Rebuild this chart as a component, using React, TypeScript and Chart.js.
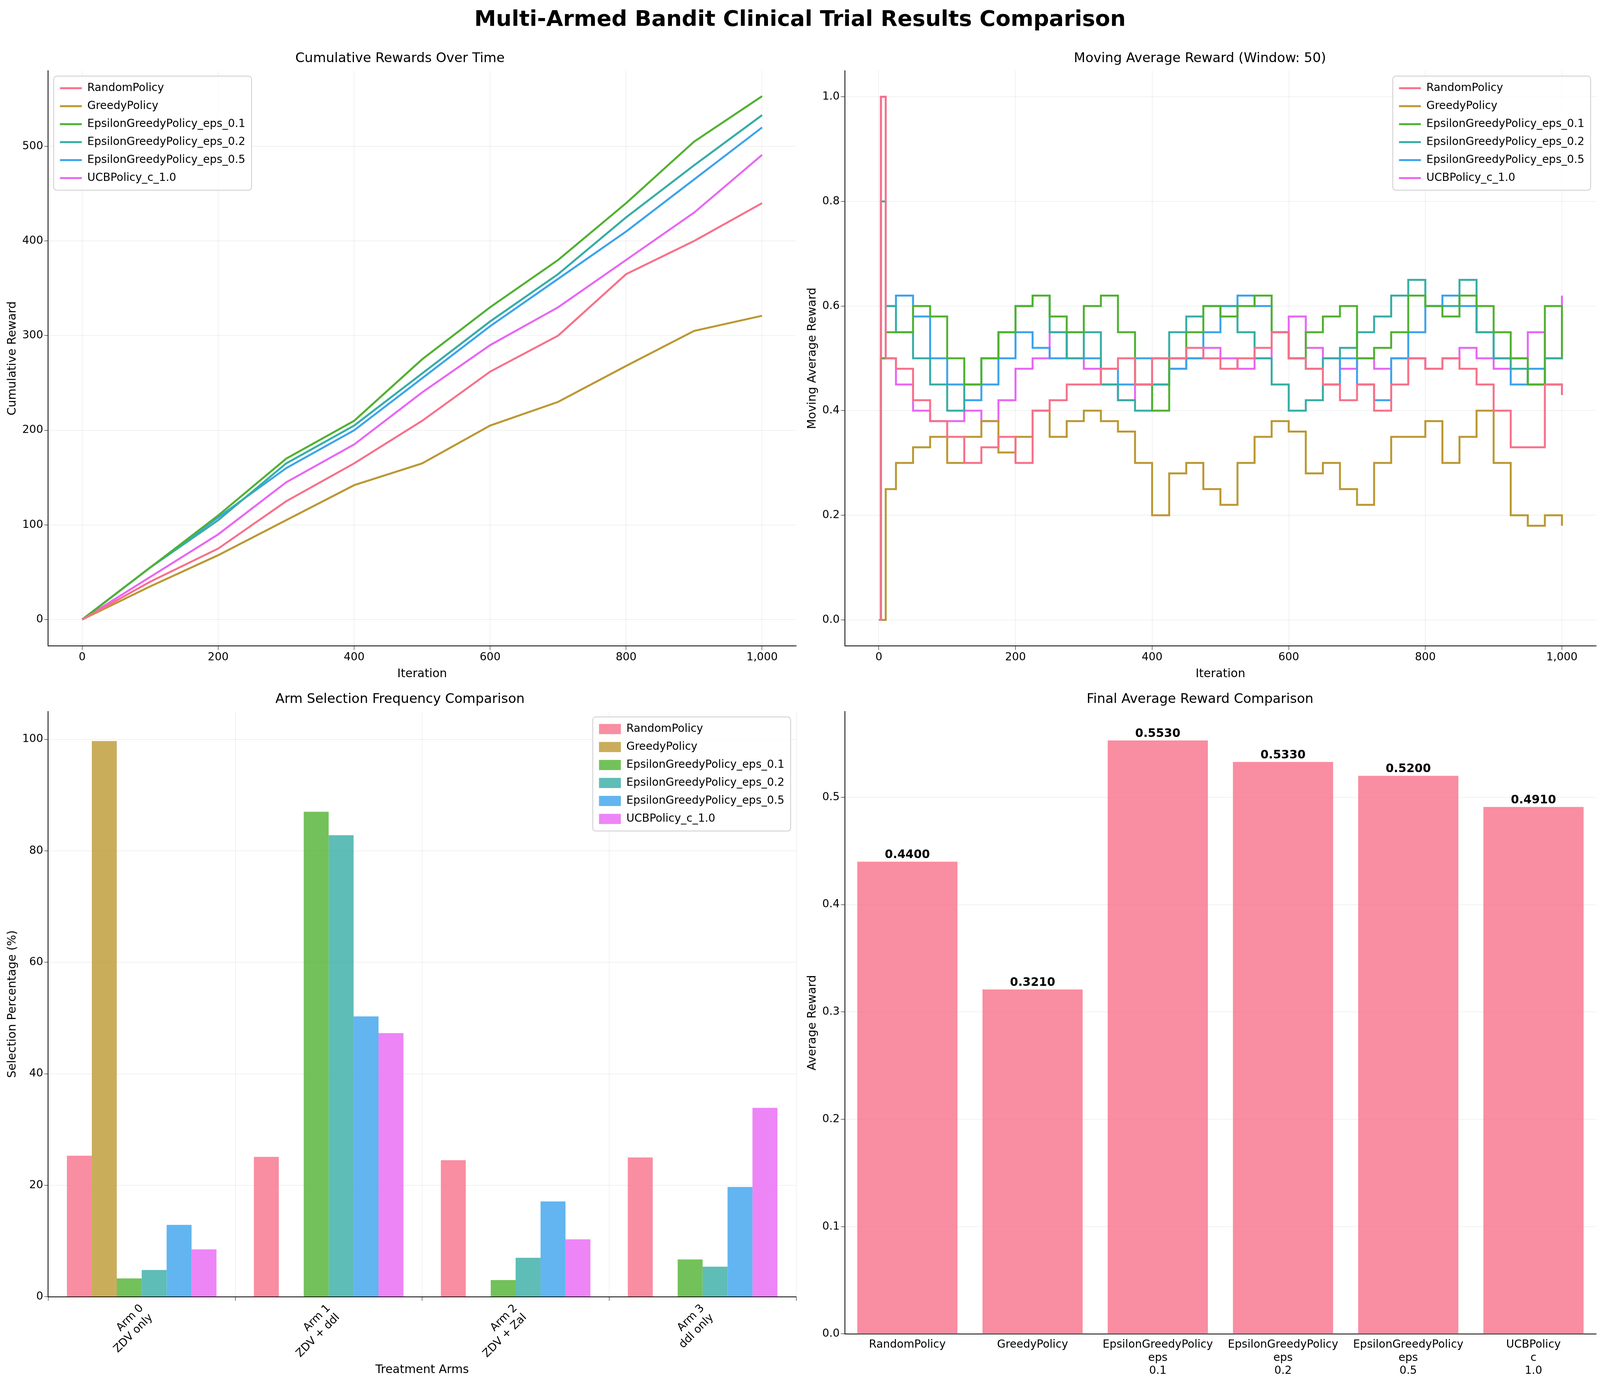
import { useEffect, useRef } from 'react';
import { Chart, registerables } from 'chart.js';

Chart.register(...registerables);
Chart.defaults.font.family = 'DejaVu Sans';
Chart.defaults.font.size = 28;
Chart.defaults.color = '#000';

const policies = ['RandomPolicy', 'GreedyPolicy', 'EpsilonGreedyPolicy_eps_0.1', 'EpsilonGreedyPolicy_eps_0.2', 'EpsilonGreedyPolicy_eps_0.5', 'UCBPolicy_c_1.0'];
const colors = ['#f77189', '#bb9832', '#50b131', '#36ada4', '#3ba3ec', '#e866f4'];
const barColors = ['rgba(247,113,137,0.8)', 'rgba(187,152,50,0.8)', 'rgba(80,177,49,0.8)', 'rgba(54,173,164,0.8)', 'rgba(59,163,236,0.8)', 'rgba(232,102,244,0.8)'];

const cumX = [0, 100, 200, 300, 400, 500, 600, 700, 800, 900, 1000];
const cumRandom = [0, 40, 75, 125, 165, 210, 262, 300, 365, 400, 440];
const cumGreedy = [0, 35, 68, 105, 142, 165, 205, 230, 268, 305, 321];
const cumEps01 = [0, 55, 110, 170, 210, 275, 330, 380, 440, 505, 553];
const cumEps02 = [0, 55, 105, 165, 205, 260, 315, 365, 425, 480, 533];
const cumEps05 = [0, 55, 108, 160, 200, 255, 310, 360, 410, 465, 520];
const cumUcb = [0, 45, 90, 145, 185, 240, 290, 330, 380, 430, 491];

const maX = [0, 3, 10, 25, 50, 75, 100, 125, 150, 175, 200, 225, 250, 275, 300, 325, 350, 375, 400, 425, 450, 475, 500, 525, 550, 575, 600, 625, 650, 675, 700, 725, 750, 775, 800, 825, 850, 875, 900, 925, 950, 975, 1000];
const maRandom = [0, 1.0, 0.5, 0.48, 0.42, 0.38, 0.35, 0.3, 0.33, 0.35, 0.3, 0.4, 0.42, 0.45, 0.45, 0.48, 0.5, 0.45, 0.5, 0.5, 0.52, 0.5, 0.48, 0.5, 0.52, 0.55, 0.5, 0.48, 0.45, 0.42, 0.45, 0.4, 0.45, 0.5, 0.48, 0.5, 0.48, 0.45, 0.4, 0.33, 0.33, 0.45, 0.43];
const maGreedy = [0, 0, 0.25, 0.3, 0.33, 0.35, 0.3, 0.35, 0.38, 0.32, 0.35, 0.4, 0.35, 0.38, 0.4, 0.38, 0.36, 0.3, 0.2, 0.28, 0.3, 0.25, 0.22, 0.3, 0.35, 0.38, 0.36, 0.28, 0.3, 0.25, 0.22, 0.3, 0.35, 0.35, 0.38, 0.3, 0.35, 0.4, 0.3, 0.2, 0.18, 0.2, 0.18];
const maEps01 = [0, 0.5, 0.55, 0.55, 0.6, 0.58, 0.5, 0.45, 0.5, 0.55, 0.6, 0.62, 0.58, 0.55, 0.6, 0.62, 0.55, 0.45, 0.4, 0.5, 0.55, 0.6, 0.58, 0.6, 0.62, 0.55, 0.5, 0.55, 0.58, 0.6, 0.5, 0.52, 0.55, 0.62, 0.6, 0.58, 0.62, 0.6, 0.55, 0.5, 0.45, 0.6, 0.5];
const maEps02 = [0, 0.8, 0.6, 0.55, 0.5, 0.45, 0.4, 0.45, 0.5, 0.55, 0.6, 0.62, 0.55, 0.5, 0.55, 0.45, 0.42, 0.4, 0.45, 0.55, 0.58, 0.6, 0.6, 0.55, 0.5, 0.45, 0.4, 0.42, 0.5, 0.52, 0.55, 0.58, 0.62, 0.65, 0.6, 0.6, 0.65, 0.55, 0.5, 0.48, 0.45, 0.5, 0.57];
const maEps05 = [0, 0.5, 0.6, 0.62, 0.58, 0.5, 0.45, 0.42, 0.45, 0.5, 0.55, 0.52, 0.5, 0.55, 0.5, 0.48, 0.45, 0.5, 0.45, 0.48, 0.5, 0.55, 0.6, 0.62, 0.6, 0.55, 0.5, 0.48, 0.45, 0.5, 0.45, 0.42, 0.5, 0.55, 0.6, 0.62, 0.6, 0.55, 0.5, 0.45, 0.48, 0.45, 0.43];
const maUcb = [0, 1.0, 0.5, 0.45, 0.4, 0.38, 0.38, 0.4, 0.38, 0.42, 0.48, 0.5, 0.55, 0.5, 0.48, 0.45, 0.42, 0.45, 0.5, 0.48, 0.5, 0.52, 0.5, 0.48, 0.5, 0.55, 0.58, 0.52, 0.5, 0.48, 0.5, 0.48, 0.5, 0.5, 0.48, 0.5, 0.52, 0.5, 0.48, 0.5, 0.55, 0.5, 0.62];

const arms = [['Arm 0', 'ZDV only'], ['Arm 1', 'ZDV + ddl'], ['Arm 2', 'ZDV + Zal'], ['Arm 3', 'ddl only']];
const selRandom = [25.3, 25.1, 24.5, 25.0];
const selGreedy = [99.7, 0, 0, 0];
const selEps01 = [3.3, 87.0, 3.0, 6.7];
const selEps02 = [4.8, 82.8, 7.0, 5.4];
const selEps05 = [12.9, 50.3, 17.1, 19.7];
const selUcb = [8.5, 47.3, 10.3, 33.9];

const finalLabels = [['RandomPolicy'], ['GreedyPolicy'], ['EpsilonGreedyPolicy', 'eps', '0.1'], ['EpsilonGreedyPolicy', 'eps', '0.2'], ['EpsilonGreedyPolicy', 'eps', '0.5'], ['UCBPolicy', 'c', '1.0']];
const finalRewards = [0.44, 0.321, 0.553, 0.533, 0.52, 0.491];

const iterTicks = [0, 200, 400, 600, 800, 1000];
const cumTicks = [0, 100, 200, 300, 400, 500];
const maTicks = [0, 0.2, 0.4, 0.6, 0.8, 1.0];

const grid = { color: 'rgba(0,0,0,0.1)', tickColor: '#000', tickLength: 10 };
const border = { color: '#000', width: 2 };
const titleFont = { size: 34, weight: 'normal' as const };
const axisTitle = (text: string) => ({ display: true, text, font: { size: 30 } });
const fixedTicks = (vals: number[]) => (axis: any) => { axis.ticks = vals.map(value => ({ value })); };

// matplotlib-like legend box in a corner of the plot area
const boxLegend = {
  id: 'boxLegend',
  afterDraw(chart: any, _args: any, opts: any) {
    if (!opts || !opts.corner) return;
    const { ctx, chartArea } = chart;
    const sets = chart.data.datasets;
    ctx.save();
    ctx.font = '28px DejaVu Sans';
    const lineH = 46;
    const marker = 56;
    const textW = Math.max(...sets.map((d: any) => ctx.measureText(d.label).width));
    const w = 16 + marker + 14 + textW + 16;
    const h = sets.length * lineH + 16;
    const x0 = opts.corner === 'left' ? chartArea.left + 14 : chartArea.right - 14 - w;
    const y0 = chartArea.top + 14;
    ctx.fillStyle = 'rgba(255,255,255,0.8)';
    ctx.strokeStyle = '#ccc';
    ctx.lineWidth = 2;
    ctx.beginPath();
    ctx.roundRect(x0, y0, w, h, 8);
    ctx.fill();
    ctx.stroke();
    sets.forEach((d: any, i: number) => {
      const cy = y0 + 8 + lineH * i + lineH / 2;
      if (opts.kind === 'line') {
        ctx.strokeStyle = d.borderColor;
        ctx.lineWidth = 5;
        ctx.beginPath();
        ctx.moveTo(x0 + 16, cy);
        ctx.lineTo(x0 + 16 + marker, cy);
        ctx.stroke();
      } else {
        ctx.fillStyle = d.backgroundColor;
        ctx.fillRect(x0 + 16, cy - 13, marker, 26);
      }
      ctx.fillStyle = '#000';
      ctx.textBaseline = 'middle';
      ctx.fillText(d.label, x0 + 16 + marker + 14, cy);
    });
    ctx.restore();
  },
};

const valueLabels = {
  id: 'valueLabels',
  afterDatasetsDraw(chart: any) {
    const ctx = chart.ctx;
    const meta = chart.getDatasetMeta(0);
    ctx.save();
    ctx.font = 'bold 30px DejaVu Sans';
    ctx.fillStyle = '#000';
    ctx.textAlign = 'center';
    ctx.textBaseline = 'bottom';
    meta.data.forEach((el: any, i: number) => {
      ctx.fillText(finalRewards[i].toFixed(4), el.x, el.y - 2);
    });
    ctx.restore();
  },
};

function lineSets(xs: number[], series: number[][], stepped: boolean) {
  return series.map((s, i) => ({
    label: policies[i],
    data: s.map((y, j) => ({ x: xs[j], y })),
    borderColor: colors[i],
    backgroundColor: colors[i],
    borderWidth: 5,
    pointRadius: 0,
    stepped,
  }));
}

const configs: any[] = [
  {
    type: 'line',
    data: { datasets: lineSets(cumX, [cumRandom, cumGreedy, cumEps01, cumEps02, cumEps05, cumUcb], false) },
    plugins: [boxLegend],
    options: {
      plugins: { title: { display: true, text: 'Cumulative Rewards Over Time', font: titleFont }, legend: { display: false }, boxLegend: { corner: 'left', kind: 'line' } },
      scales: {
        x: { type: 'linear', min: -50, max: 1050, afterBuildTicks: fixedTicks(iterTicks), grid, border, title: axisTitle('Iteration') },
        y: { min: -28, max: 580, afterBuildTicks: fixedTicks(cumTicks), grid, border, title: axisTitle('Cumulative Reward') },
      },
    },
  },
  {
    type: 'line',
    data: { datasets: lineSets(maX, [maRandom, maGreedy, maEps01, maEps02, maEps05, maUcb], true) },
    plugins: [boxLegend],
    options: {
      plugins: { title: { display: true, text: 'Moving Average Reward (Window: 50)', font: titleFont }, legend: { display: false }, boxLegend: { corner: 'right', kind: 'line' } },
      scales: {
        x: { type: 'linear', min: -50, max: 1050, afterBuildTicks: fixedTicks(iterTicks), grid, border, title: axisTitle('Iteration') },
        y: { min: -0.05, max: 1.05, afterBuildTicks: fixedTicks(maTicks), ticks: { callback: (v: number) => v.toFixed(1) }, grid, border, title: axisTitle('Moving Average Reward') },
      },
    },
  },
  {
    type: 'bar',
    data: {
      labels: arms,
      datasets: [selRandom, selGreedy, selEps01, selEps02, selEps05, selUcb].map((s, i) => ({
        label: policies[i], data: s, backgroundColor: barColors[i], categoryPercentage: 0.8, barPercentage: 1.0,
      })),
    },
    plugins: [boxLegend],
    options: {
      plugins: { title: { display: true, text: 'Arm Selection Frequency Comparison', font: titleFont }, legend: { display: false }, boxLegend: { corner: 'right', kind: 'box' } },
      scales: {
        x: { grid, border, ticks: { maxRotation: 45, minRotation: 45 }, title: axisTitle('Treatment Arms') },
        y: { min: 0, max: 105, afterBuildTicks: fixedTicks([0, 20, 40, 60, 80, 100]), grid, border, title: axisTitle('Selection Percentage (%)') },
      },
    },
  },
  {
    type: 'bar',
    data: { labels: finalLabels, datasets: [{ label: 'Final', data: finalRewards, backgroundColor: 'rgba(247,113,137,0.8)', categoryPercentage: 0.8, barPercentage: 1.0 }] },
    plugins: [valueLabels],
    options: {
      plugins: { title: { display: true, text: 'Final Average Reward Comparison', font: titleFont }, legend: { display: false } },
      scales: {
        x: { grid: { display: false, tickColor: '#000' }, border, ticks: { maxRotation: 0, minRotation: 0, autoSkip: false } },
        y: { min: 0, max: 0.58, afterBuildTicks: fixedTicks([0, 0.1, 0.2, 0.3, 0.4, 0.5]), ticks: { callback: (v: number) => v.toFixed(1) }, grid, border, title: axisTitle('Average Reward') },
      },
    },
  },
];

function Panel({ config, style }: { config: any; style: any }) {
  const ref = useRef<HTMLCanvasElement>(null);
  useEffect(() => {
    if (!ref.current) return;
    const chart = new Chart(ref.current, {
      ...config,
      options: { ...config.options, animation: false, responsive: true, maintainAspectRatio: false, layout: { padding: 10 } },
    });
    return () => chart.destroy();
  }, [config]);
  return (
    <div style={{ position: 'absolute', ...style }}>
      <canvas ref={ref} />
    </div>
  );
}

export default function App() {
  return (
    <div style={{ position: 'fixed', left: 0, top: 0, width: '100vw', height: '100vh', background: '#fff', fontFamily: 'DejaVu Sans', overflow: 'hidden' }}>
      <div style={{ position: 'absolute', top: '0.4%', width: '100%', textAlign: 'center', fontSize: 56, fontWeight: 'bold' }}>
        Multi-Armed Bandit Clinical Trial Results Comparison
      </div>
      <Panel config={configs[0]} style={{ left: 0, top: '3.1%', width: '50%', height: '46.5%' }} />
      <Panel config={configs[1]} style={{ left: '50%', top: '3.1%', width: '50%', height: '46.5%' }} />
      <Panel config={configs[2]} style={{ left: 0, top: '49.4%', width: '50%', height: '50.5%' }} />
      <Panel config={configs[3]} style={{ left: '50%', top: '49.4%', width: '50%', height: '50.5%' }} />
    </div>
  );
}
